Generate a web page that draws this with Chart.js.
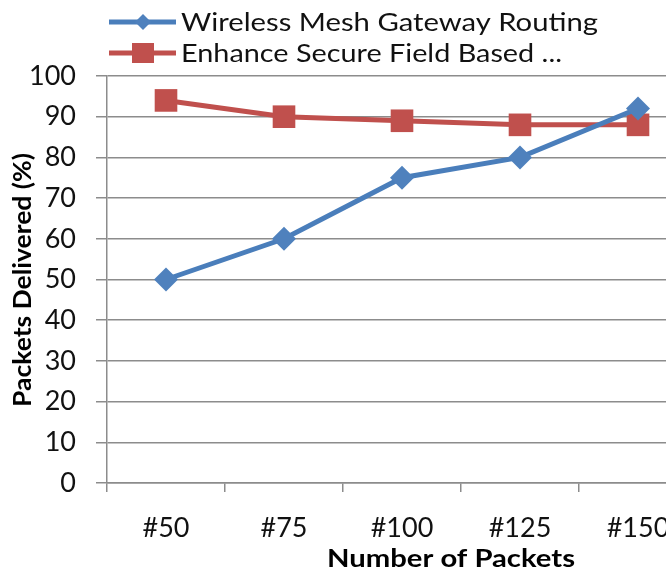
<!DOCTYPE html>
<html>
<head>
<meta charset="utf-8">
<script src="https://cdn.jsdelivr.net/npm/chart.js@4/dist/chart.umd.min.js"></script>
<style>
  html, body { margin: 0; padding: 0; background: #fff; overflow: hidden; }
  #wrap { width: 720px; height: 575px; position: relative; }
</style>
</head>
<body>
<div id="wrap"><canvas id="chart"></canvas></div>
<script>
// data
const categories = ['#50', '#75', '#100', '#125', '#150'];
const wirelessMesh = [50, 60, 75, 80, 92];
const enhanceSecure = [94, 90, 89, 88, 88];
const yTicks = { min: 0, max: 100, step: 10 };
const seriesNames = ['Wireless Mesh Gateway Routing', 'Enhance Secure Field Based ...'];
const xTitle = 'Number of Packets';
const yTitle = 'Packets Delivered (%)';

const FONT = 'Lato, "Open Sans", sans-serif';
const BLUE = '#4a7ebb', RED = '#c0504d';

// text squeezed/stretched sideways to a given width (the original font is wider than Lato)
function fitText(ctx, text, x, y, width, align) {
  const w = ctx.measureText(text).width;
  const k = width / w;
  ctx.save();
  ctx.translate(x, y);
  ctx.scale(k, 1);
  ctx.textAlign = align;
  ctx.fillText(text, 0, 0);
  ctx.restore();
}

// legend + axis titles drawn by hand (left-aligned legend rows, offset x title)
const decor = {
  id: 'decor',
  afterDraw(chart) {
    const ctx = chart.ctx;
    ctx.save();
    const legendWidths = [417, 381];
    chart.data.datasets.forEach((ds, i) => {
      const y = 22 + i * 31;
      ctx.strokeStyle = ds.borderColor;
      ctx.lineWidth = 5;
      ctx.beginPath(); ctx.moveTo(109, y); ctx.lineTo(176, y); ctx.stroke();
      ctx.fillStyle = ds.pointBackgroundColor;
      if (ds.pointStyle === 'rect') {
        ctx.fillRect(132, y - 10, 22, 20);
      } else {
        ctx.beginPath();
        ctx.moveTo(143, y - 8); ctx.lineTo(151, y); ctx.lineTo(143, y + 8); ctx.lineTo(135, y);
        ctx.closePath(); ctx.fill();
      }
      ctx.fillStyle = '#111';
      ctx.font = '25px ' + FONT;
      ctx.textBaseline = 'middle';
      fitText(ctx, ds.label, 181, y + 1, legendWidths[i], 'left');
    });
    // axis titles
    ctx.fillStyle = '#000';
    ctx.font = 'bold 24px ' + FONT;
    ctx.textBaseline = 'middle';
    fitText(ctx, xTitle, 451, 559, 248, 'center');
    ctx.translate(23, 280);
    ctx.rotate(-Math.PI / 2);
    fitText(ctx, yTitle, 0, 0, 254, 'center');
    ctx.restore();
  }
};

new Chart(document.getElementById('chart'), {
  type: 'line',
  data: {
    labels: categories,
    datasets: [
      { label: seriesNames[0], data: wirelessMesh, borderColor: BLUE, backgroundColor: BLUE,
        pointBackgroundColor: '#4f81bd', pointBorderColor: '#4f81bd', borderWidth: 5,
        pointStyle: 'rectRot', pointRadius: 12, pointBorderWidth: 0, tension: 0 },
      { label: seriesNames[1], data: enhanceSecure, borderColor: RED, backgroundColor: RED,
        pointBackgroundColor: RED, pointBorderColor: RED, borderWidth: 5,
        pointStyle: 'rect', pointRadius: 16, pointBorderWidth: 0, tension: 0 },
    ]
  },
  options: {
    responsive: true, maintainAspectRatio: false, animation: false,
    layout: { padding: { top: 76, right: 23, left: 0, bottom: 0 } },
    plugins: { legend: { display: false }, tooltip: { enabled: false } },
    scales: {
      x: {
        offset: true,
        afterFit: s => { s.height = 92; },
        grid: { offset: true, drawOnChartArea: false, drawTicks: true, tickLength: 9, color: '#8c8c8c', lineWidth: 1.5 },
        border: { color: '#8c8c8c', width: 1.5 },
        ticks: { color: '#111', font: { family: FONT, size: 27 }, padding: 20, maxRotation: 0 }
      },
      y: {
        min: yTicks.min, max: yTicks.max,
        afterFit: s => { s.width = 107; },
        grid: { color: '#8c8c8c', lineWidth: 1.5, tickLength: 11 },
        border: { color: '#8c8c8c', width: 1.5 },
        ticks: { stepSize: yTicks.step, color: '#111', font: { family: FONT, size: 27 }, padding: 20 }
      }
    }
  },
  plugins: [decor]
});
</script>
</body>
</html>
